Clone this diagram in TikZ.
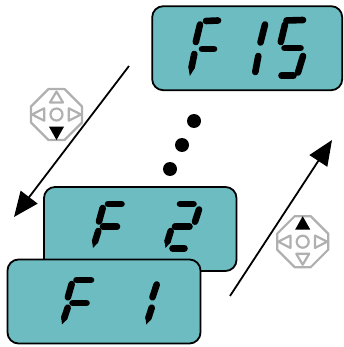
\documentclass[tikz,border=0pt]{standalone}
\usetikzlibrary{calc,arrows.meta}
\definecolor{lcd}{HTML}{6DBCC2}
\definecolor{padgray}{HTML}{B0B0B0}
\tikzset{
  lcdbox/.style={draw=black,fill=lcd,line width=1.8pt,rounded corners=11pt,inner sep=0pt,outer sep=0pt,anchor=north west},
  segline/.style={line width=6.6pt,line cap=round,black},
  dotmark/.style={circle,fill=black,inner sep=0pt,minimum size=14pt},
  navarrow/.style={line width=1.8pt,-{Triangle[length=25pt,width=21pt]}},
  padline/.style={draw=padgray,line width=2.2pt,line join=round},
}
\newcommand{\seg}[2]{\draw[segline] (#1) -- (#2);}
\newcommand{\taper}[2]{%
  \coordinate (ta) at (#1);\coordinate (tb) at (#2);
  \coordinate (tm) at ($(ta)!.6!(tb)$);
  \draw[segline] (ta) -- (tm);
  \fill[black] ($(tm)!3.3pt!90:(tb)$) -- (tb) -- ($(tm)!3.3pt!-90:(tb)$) -- cycle;}
\begin{document}
\begin{tikzpicture}[x=1pt,y=-1pt]
\useasboundingbox (0,0) rectangle (343,347);
% top display
\node[lcdbox,minimum width=190pt,minimum height=84pt] (top) at (152.2,6.2) {};
\seg{206,21}{218,20.5}\seg{202,49}{214,49}\seg{200,24.5}{195.8,42}\taper{194.3,54}{189.8,76}
\seg{265,24.5}{260.5,42.5}\seg{258.3,56}{255.3,72}
\seg{286.5,20.5}{303,20}\seg{285,24.5}{280.8,42}\seg{284.5,48}{300.5,48}\seg{303,56}{298,72.5}\seg{281.5,75.7}{293.5,75.7}
% dots
\node[dotmark] (d1) at (194,121) {};
\node[dotmark] (d2) at (182,145) {};
\node[dotmark] (d3) at (170,169) {};
% second display
\node[lcdbox,minimum width=192.5pt,minimum height=84pt] (mid) at (44,187) {};
\seg{108,204}{121.5,204}\seg{103,226.7}{117,226.7}\seg{102.7,208}{99,221.5}\taper{98.3,231}{93,248}
\seg{180,204}{193.5,204}\seg{199,209.5}{195,221.7}\seg{175,226.7}{189.5,226.7}\taper{170.7,231}{165.5,248}\seg{172.5,248.3}{184.5,248.3}
% front display
\node[lcdbox,minimum width=193pt,minimum height=84pt] (front) at (7.5,259.5) {};
\seg{76.5,280}{91,280}\seg{72.5,303}{86.5,303}\seg{71.7,284}{67.9,297.3}\taper{67.7,307.7}{62,324.5}
\seg{156.7,284.5}{152.5,297.3}\taper{151.7,307.7}{146.3,324.5}
% arrows
\coordinate (a1s) at (129,66);\coordinate (a1e) at (14,217);
\coordinate (a2s) at (230,296);\coordinate (a2e) at (332,140);
\draw[navarrow] (a1s) -- (a1e);
\draw[navarrow] (a2s) -- (a2e);
% key pads
\begin{scope}[shift={(56.5,114.5)}]
  \draw[padline] (-8,-25.5) -- (8,-25.5) -- (25.5,-8) -- (25.5,8) -- (8,25.5) -- (-8,25.5) -- (-25.5,8) -- (-25.5,-8) -- cycle;
  \draw[padline] (0,0) circle (6);
  \draw[padline] (0,-23) -- (6.5,-12) -- (-6.5,-12) -- cycle;
  \draw[padline] (-24.5,0) -- (-12.3,-6.2) -- (-12.3,6.2) -- cycle;
  \draw[padline] (24.5,0) -- (12.3,-6.2) -- (12.3,6.2) -- cycle;
  \fill[black] (0,25.5) -- (7.5,12.2) -- (-7.5,12.2) -- cycle;
\end{scope}
\begin{scope}[shift={(302.7,241.7)}]
  \draw[padline] (-8,-25.5) -- (8,-25.5) -- (25.5,-8) -- (25.5,8) -- (8,25.5) -- (-8,25.5) -- (-25.5,8) -- (-25.5,-8) -- cycle;
  \draw[padline] (0,0) circle (6);
  \draw[padline] (0,23) -- (6.5,12) -- (-6.5,12) -- cycle;
  \draw[padline] (-24.5,0) -- (-12.3,-6.2) -- (-12.3,6.2) -- cycle;
  \draw[padline] (24.5,0) -- (12.3,-6.2) -- (12.3,6.2) -- cycle;
  \fill[black] (0,-25.5) -- (7.5,-12.2) -- (-7.5,-12.2) -- cycle;
\end{scope}
\end{tikzpicture}
\end{document}
